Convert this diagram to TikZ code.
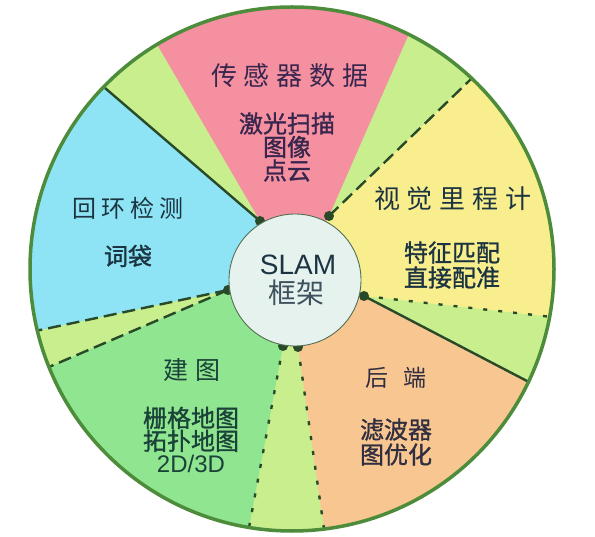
\documentclass[tikz,border=0pt]{standalone}
\usepackage{fontspec}
\setmainfont{Liberation Sans}
\newfontfamily\cjk{Noto Sans CJK SC}
\newfontfamily\cjkb[FakeBold=1.2]{Noto Sans CJK SC}
\newfontfamily\latf{Liberation Sans}
\usetikzlibrary{calc}
\definecolor{ringgreen}{HTML}{4C8C3A}
\definecolor{linegreen}{HTML}{284A28}
\definecolor{wedgegreen}{HTML}{C8EE8E}
\definecolor{pinkc}{HTML}{F4909F}
\definecolor{yellowc}{HTML}{F8EE8E}
\definecolor{cyanc}{HTML}{8EE4F4}
\definecolor{greenc}{HTML}{90E690}
\definecolor{orangec}{HTML}{F8C690}
\definecolor{hubc}{HTML}{E6F2EE}
\definecolor{txtpurple}{HTML}{38264F}
\definecolor{txtdark}{HTML}{1C3442}
\definecolor{txtgreen}{HTML}{1A4238}
\definecolor{txtbrown}{HTML}{302E40}
\newcommand\tsp{\hspace{7pt}}
\begin{document}
\begin{tikzpicture}[x=1pt,y=-1pt,
  bline/.style={linegreen, line width=2.4pt},
  dashline/.style={bline, dash pattern=on 13pt off 6pt},
  dotline/.style={bline, dash pattern=on 4pt off 11pt},
  jdot/.style={fill=linegreen},
  titletxt/.style={font=\cjk\fontsize{26}{26}\selectfont, inner sep=0pt},
  subtxt/.style={font=\cjkb\fontsize{24}{24}\selectfont, align=center, inner sep=0pt}
]
\useasboundingbox (0,0) rectangle (595,537);
\fill[white] (0,0) rectangle (595,537);
% centres
\coordinate (O) at (292,269);
\coordinate (C) at (295,280);
% junctions on hub
\coordinate (J1) at (260,221);
\coordinate (J2) at (329,216);
\coordinate (J3) at (364,296);
\coordinate (J4a) at (283,346);
\coordinate (J4b) at (298,347);
\coordinate (J5) at (228,290);
% outer ends
\coordinate (Pct) at (105,88);
\coordinate (Ppl) at (158,46);
\coordinate (Ppr) at (408,36);
\coordinate (Pyt) at (471.7,78.4);
\coordinate (Pyb) at (549.6,316.7);
\coordinate (Pot) at (528.5,381.8);
\coordinate (Pol) at (324,529);
\coordinate (Pgr) at (249,527.5);
\coordinate (Pgt) at (49,367);
\coordinate (Pcb) at (37.4,330.6);
% sectors
\begin{scope}
  \clip (O) circle (262pt);
  \fill[wedgegreen] (O) circle (270pt);
  \fill[pinkc] (C) -- (J1) -- ($(J1)!2!(Ppl)$) -- ($(J2)!2!(Ppr)$) -- (J2) -- cycle;
  \fill[yellowc] (C) -- (J2) -- ($(J2)!2!(Pyt)$) -- ($(J3)!2!(Pyb)$) -- (J3) -- cycle;
  \fill[orangec] (C) -- (J3) -- ($(J3)!2!(Pot)$) -- ($(J4b)!2!(Pol)$) -- (J4b) -- cycle;
  \fill[greenc] (C) -- (J4a) -- ($(J4a)!2!(Pgr)$) -- ($(J5)!2!(Pgt)$) -- (J5) -- cycle;
  \fill[cyanc] (C) -- (J5) -- ($(J5)!2!(Pcb)$) -- ($(J1)!2!(Pct)$) -- (J1) -- cycle;
\end{scope}
% boundary lines
\draw[bline] (J1) -- (Pct);
\draw[dashline] (J2) -- (Pyt);
\draw[dotline] (J3) -- (Pyb);
\draw[bline] (J3) -- (Pot);
\draw[dotline] (J4b) -- (Pol);
\draw[dotline] (J4a) -- (Pgr);
\draw[dashline] (J5) -- (Pgt);
\draw[dashline] (J5) -- (Pcb);
% junction dots
\foreach \j in {J1,J2,J3,J4a,J4b,J5} \fill[jdot] (\j) circle (5pt);
% outer ring
\draw[ringgreen, line width=3.5pt] (O) circle (262pt);
% hub
\node[circle, fill=hubc, draw=linegreen!80, line width=0.9pt, minimum size=132pt, inner sep=0pt] (hub) at (C) {};
\node[font=\latf\fontsize{28}{28}\selectfont, text=txtdark, inner sep=0pt] (slam) at (298,265) {SLAM};
\node[font=\cjk\fontsize{28}{28}\selectfont, text=txtdark!85, inner sep=0pt] (kj) at (296,293) {框架};
% sensor data
\node[titletxt, text=txtpurple] (t1) at (290,76) {传\tsp 感\tsp 器\tsp 数\tsp 据};
\node[subtxt, text=txtpurple, font=\cjkb\fontsize{24}{23.5}\selectfont] (s1) at (287,147) {激光扫描\\图像\\点云};
% visual odometry
\node[titletxt, text=txtdark] (t2) at (453,199) {视\tsp 觉\tsp 里\tsp 程\tsp 计};
\node[subtxt, text=txtdark, font=\cjkb\fontsize{24}{25}\selectfont] (s2) at (452,265) {特征匹配\\直接配准};
% loop closure
\node[titletxt, text=txtdark, font=\cjk\fontsize{24}{24}\selectfont] (t3) at (128,208) {回\hspace{5pt}环\hspace{5pt}检\hspace{5pt}测};
\node[subtxt, text=txtdark] (s3) at (128,256) {词袋};
% mapping
\node[titletxt, text=txtgreen, font=\cjk\fontsize{25}{25}\selectfont] (t4) at (192,370) {建\hspace{7pt}图};
\node[subtxt, text=txtgreen, font=\cjkb\fontsize{24}{23}\selectfont] (s4) at (191,440) {栅格地图\\拓扑地图\\{\latf 2D/3D}};
% back end
\node[titletxt, text=txtbrown, font=\cjk\fontsize{23}{23}\selectfont] (t5) at (396,378) {后\hspace{16pt}端};
\node[subtxt, text=txtbrown, font=\cjkb\fontsize{24}{25}\selectfont] (s5) at (396,442) {滤波器\\图优化};
\end{tikzpicture}
\end{document}
